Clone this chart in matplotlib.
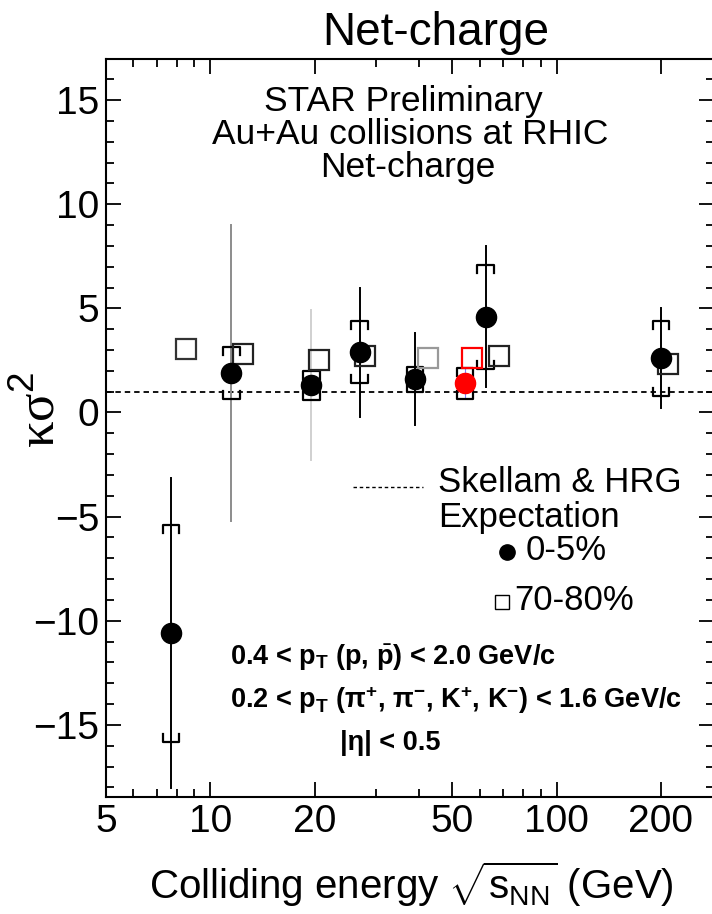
import numpy as np
import matplotlib
matplotlib.use("Agg")
import matplotlib.pyplot as plt
from matplotlib.ticker import FixedLocator, NullFormatter, LogLocator

plt.rcParams['font.family'] = ['Liberation Sans', 'DejaVu Sans']
plt.rcParams['mathtext.fontset'] = 'custom'
plt.rcParams['mathtext.rm'] = 'Liberation Sans'
plt.rcParams['mathtext.it'] = 'Liberation Sans:italic'
plt.rcParams['mathtext.bf'] = 'Liberation Sans:bold'

# 0-5% central, net-charge kappa*sigma^2
energy = [7.7, 11.5, 19.6, 27, 39, 62.4, 200]
kappa = [-10.6, 1.9, 1.3, 2.9, 1.6, 4.6, 2.6]
stat_err = [7.45, 7.1, 3.6, 3.1, 2.2, 3.4, 2.4]
sys_err = [5.2, 1.25, 0.7, 1.5, 0.6, 2.5, 1.8]
stat_color = ['black', '#8c8c8c', '#d0d0d0', 'black', 'black', 'black', 'black']

# 54.4 GeV (red)
energy_new = [54.4]
kappa_new = [1.4]
stat_new = [0.7]
sys_new = [0.75]

# 70-80% peripheral (slightly shifted in x)
per_x = [8.5, 12.4, 20.6, 28, 42.5, 57, 68, 210]
per_y = [3.05, 2.8, 2.5, 2.7, 2.6, 2.6, 2.7, 2.35]
per_color = ['#333333', '#222222', '#222222', '#222222', '#999999', 'red', '#222222', '#222222']

baseline = 1.0

W, H = 712, 914
fig = plt.figure(figsize=(W / 100, H / 100), dpi=100)
ax = fig.add_axes([106 / W, 1 - 797 / H, (W - 106) / W + 0.003, (797 - 59) / H])


def fx(px):
    return px / W


def fy(py):
    return 1 - py / H


def brackets(x, y, e, color='black'):
    # systematic error "cap" brackets, ticks point towards the point
    lo, hi = x / 10 ** 0.024, x * 10 ** 0.024
    t = 0.38
    ax.plot([lo, lo, hi, hi], [y + e - t, y + e, y + e, y + e - t], color=color, lw=1.6, zorder=3)
    ax.plot([lo, lo, hi, hi], [y - e + t, y - e, y - e, y - e + t], color=color, lw=1.6, zorder=3)


ax.axhline(baseline, color='black', lw=1.3, ls=(0, (3, 2.2)), zorder=1)

for x, y, s, c in zip(energy, kappa, stat_err, stat_color):
    ax.plot([x, x], [y - s, y + s], color=c, lw=1.4, zorder=2)
for x, y, e in zip(energy, kappa, sys_err):
    brackets(x, y, e)

for x, y, c in zip(per_x, per_y, per_color):
    ax.plot([x], [y], ls='none', marker='s', ms=14, mfc='none', mec=c, mew=1.6, zorder=4)

ax.plot(energy, kappa, ls='none', marker='o', ms=14.5, color='black', zorder=5)

for x, y, s, e in zip(energy_new, kappa_new, stat_new, sys_new):
    ax.plot([x, x], [y - s, y + s], color='#8080ff', lw=0.8, zorder=2)
    brackets(x, y, e)
ax.plot(energy_new, kappa_new, ls='none', marker='o', ms=14.5, color='red', zorder=5)

ax.set_xscale('log')
ax.set_xlim(5, 285)
ax.set_ylim(-18.46, 16.97)
ax.xaxis.set_major_locator(FixedLocator([5, 10, 20, 50, 100, 200]))
ax.set_xticklabels(['5', '10', '20', '50', '100', '200'])
ax.xaxis.set_minor_locator(LogLocator(base=10, subs=np.arange(2, 10)))
ax.xaxis.set_minor_formatter(NullFormatter())
ax.set_yticks([-15, -10, -5, 0, 5, 10, 15])
ax.set_yticklabels(['\u221215', '\u221210', '\u22125', '0', '5', '10', '15'])
ax.set_yticks(np.arange(-18, 17, 1), minor=True)
ax.tick_params(which='both', direction='in', top=True, right=True, width=1.3, labelsize=28, pad=5)
ax.tick_params(which='major', length=11)
ax.tick_params(which='minor', length=6)
for sp in ax.spines.values():
    sp.set_linewidth(1.5)

fig.text(fx(436), fy(33), 'Net-charge', fontsize=33, ha='center', va='center')
fig.text(fx(40), fy(410), '\u03ba\u03c3$^{2}$', fontsize=38, rotation=90, ha='center', va='center',
         family=['Liberation Serif', 'DejaVu Serif'])
fig.text(fx(411), fy(884), r'Colliding energy $\sqrt{\mathrm{s}_{\mathrm{NN}}}$ (GeV)', fontsize=29,
         ha='center', va='center')

fig.text(fx(403), fy(101), 'STAR Preliminary', fontsize=25.5, ha='center', va='center')
fig.text(fx(410), fy(135), 'Au+Au collisions at RHIC', fontsize=25.5, ha='center', va='center')
fig.text(fx(408), fy(167), 'Net-charge', fontsize=25.5, ha='center', va='center')

# legend
fig.lines.append(plt.Line2D([fx(353), fx(423)], [fy(487), fy(487)], color='black', lw=1.0,
                            ls=(0, (2.5, 2)), transform=fig.transFigure))
fig.text(fx(438), fy(482), 'Skellam & HRG', fontsize=25, ha='left', va='center')
fig.text(fx(438), fy(518), 'Expectation', fontsize=25, ha='left', va='center')
fig.lines.append(plt.Line2D([fx(507)], [fy(552)], marker='o', ms=11, color='black',
                            transform=fig.transFigure))
fig.text(fx(526), fy(551), '0-5%', fontsize=25, ha='left', va='center')
fig.lines.append(plt.Line2D([fx(502)], [fy(602)], marker='s', ms=10, mfc='none', mec='black', mew=1.0,
                            transform=fig.transFigure))
fig.text(fx(514), fy(601), '70-80%', fontsize=25, ha='left', va='center')

# kinematic cuts
fig.text(fx(230), fy(658), r'0.4 < p$_{\mathbf{T}}$ (p, $\bar{\mathbf{p}}$) < 2.0 GeV/c',
         fontsize=19.5, fontweight='bold', ha='left', va='center')
fig.text(fx(230), fy(700), r'0.2 < p$_{\mathbf{T}}$ ($\mathbf{\pi^{+}}$, $\mathbf{\pi^{-}}$, K$^{\mathbf{+}}$, K$^{\mathbf{-}}$) < 1.6 GeV/c',
         fontsize=19.5, fontweight='bold', ha='left', va='center')
fig.text(fx(340), fy(743), '|\u03b7| < 0.5', fontsize=19.5, fontweight='bold', ha='left', va='center')

fig.savefig('out.png', dpi=100)
